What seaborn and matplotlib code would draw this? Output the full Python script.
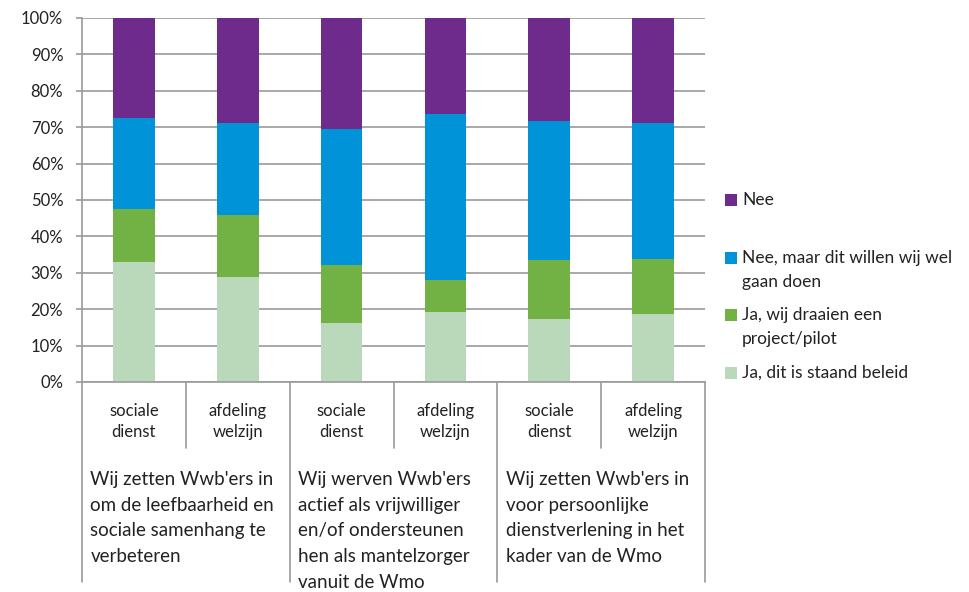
import matplotlib
matplotlib.use('AGG')
import matplotlib.pyplot as plt
import matplotlib.transforms as mtransforms
from matplotlib.patches import Rectangle
import pandas as pd
import seaborn as sns

# segment shares (%) per bar, bottom to top
units = ['sociale\ndienst', 'afdeling\nwelzijn'] * 3
groups = [
    "Wij zetten Wwb'ers in\nom de leefbaarheid en\nsociale samenhang te\nverbeteren",
    "Wij werven Wwb'ers\nactief als vrijwilliger\nen/of ondersteunen\nhen als mantelzorger\nvanuit de Wmo",
    "Wij zetten Wwb'ers in\nvoor persoonlijke\ndienstverlening in het\nkader van de Wmo",
]
staand = [32.9, 28.9, 16.3, 19.3, 17.2, 18.8]
pilot = [14.6, 17.0, 15.8, 8.7, 16.3, 15.0]
willen = [25.0, 25.3, 37.4, 45.7, 38.1, 37.4]
nee = [27.5, 28.8, 30.5, 26.3, 28.4, 28.8]

series_names = ['Ja, dit is staand beleid', 'Ja, wij draaien een\nproject/pilot',
                'Nee, maar dit willen wij wel\ngaan doen', 'Nee']
colors = ['#B9D9BA', '#72B244', '#0093D7', '#6E2B8B']

sns.set_style('white')
plt.rcParams['font.family'] = ['Lato', 'DejaVu Sans']

df = pd.DataFrame({'bar': range(len(units)), 'staand': staand, 'pilot': pilot,
                   'willen': willen, 'nee': nee})
cols = ['staand', 'pilot', 'willen', 'nee']
cum = df[cols].cumsum(axis=1)
cum['bar'] = df['bar']

fig = plt.figure(figsize=(9.69, 5.92), dpi=100)
ax = fig.add_axes([82 / 969, 1 - 382 / 592, 623 / 969, 364 / 592])

# stacked bars: draw cumulative totals from top layer down
for col, c in reversed(list(zip(cols, colors))):
    sns.barplot(data=cum, x='bar', y=col, color=c, width=0.4, saturation=1,
                errorbar=None, linewidth=0, ax=ax)

ax.set_xlim(-0.5, len(units) - 0.5)
ax.set_ylim(0, 100)
ax.set_yticks(range(0, 101, 10))
ax.set_yticklabels([f'{v}%' for v in range(0, 101, 10)], fontsize=12, color='#222222')
ax.set_xticks([])
ax.set_xlabel('')
ax.set_ylabel('')
ax.yaxis.grid(True, color='#9a9a9a', lw=1.2)
ax.set_axisbelow(True)
ax.tick_params(axis='y', left=True, length=4.5, width=1.2, color='#9a9a9a', pad=9)
for s in ['top', 'right']:
    ax.spines[s].set_visible(False)
for s in ['left', 'bottom']:
    ax.spines[s].set_color('#9a9a9a')
    ax.spines[s].set_linewidth(1.2)

# multi-level category axis
trans = mtransforms.blended_transform_factory(ax.transData, ax.transAxes)
for i in range(len(units) + 1):
    x = i - 0.5
    y_end = -0.549 if i % 2 == 0 else -0.181
    ax.plot([x, x], [0, y_end], transform=trans, color='#9a9a9a', lw=1.2, clip_on=False)
for i, lab in enumerate(units):
    ax.text(i, -0.108, lab, transform=trans, ha='center', va='center',
            fontsize=12, color='#222222', linespacing=1.4)
for g, lab in enumerate(groups):
    ax.text(2 * g - 0.5 + 0.08, -0.244, lab, transform=trans, ha='left', va='top',
            fontsize=13.5, color='#222222', linespacing=1.63)

# legend on the right
leg_y = [200, 258, 315, 373]
for name, c, y in zip(reversed(series_names), reversed(colors), leg_y):
    fig.add_artist(Rectangle((725 / 969, 1 - (y + 6) / 592), 12 / 969, 12 / 592,
                             transform=fig.transFigure, color=c, lw=0))
    fig.text(742 / 969, 1 - (y - 8) / 592, name, ha='left', va='top',
             fontsize=12.5, color='#222222', linespacing=1.6)

fig.savefig('out.png', dpi=100)
